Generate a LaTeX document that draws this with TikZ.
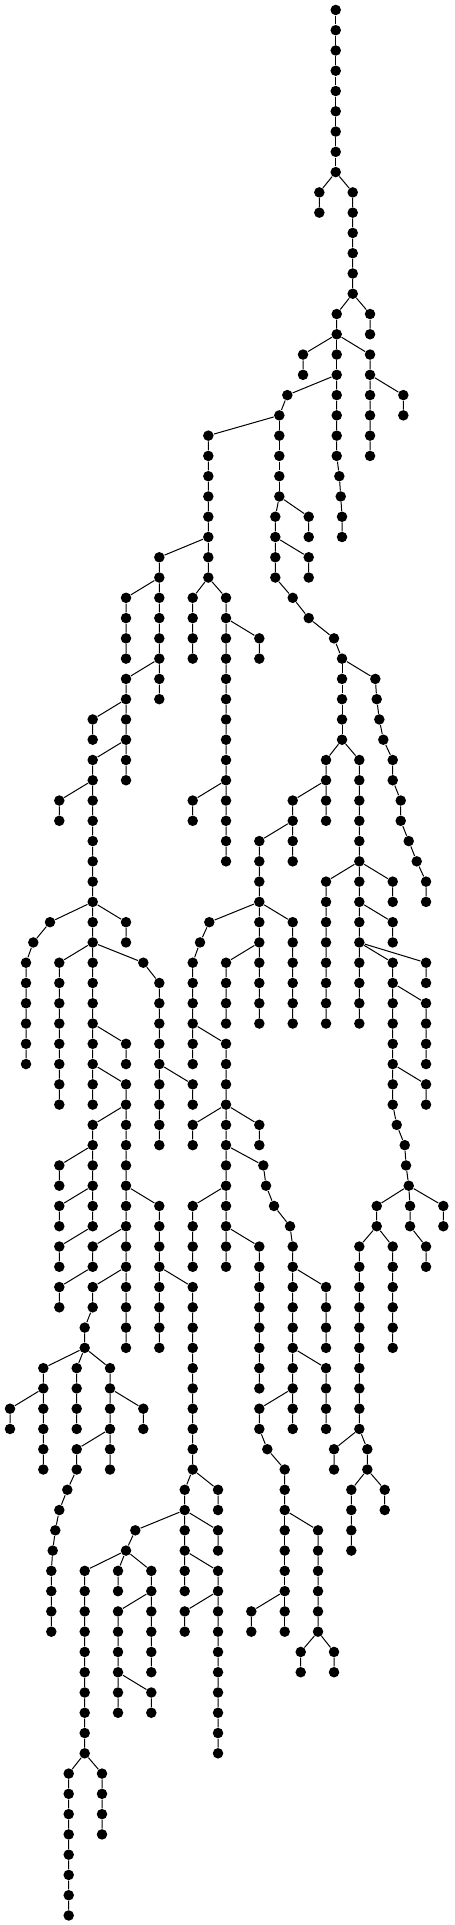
\documentclass[tikz,border=0pt]{standalone}
\usepackage{tikz}
\tikzset{dot/.style={circle,fill=black,inner sep=0pt,minimum size=10.5pt}}

\begin{document}
\begin{tikzpicture}[x=1pt,y=-20.27pt,line width=1pt]
\useasboundingbox (0,-0.49) rectangle (454,94.47);
\node[dot] (a0) at (335.7,0) {};
\node[dot] (a1) at (335.7,1) {};
\node[dot] (a2) at (335.7,2) {};
\node[dot] (a3) at (335.7,3) {};
\node[dot] (a4) at (335.7,4) {};
\node[dot] (a5) at (335.7,5) {};
\node[dot] (a6) at (335.7,6) {};
\node[dot] (a7) at (335.7,7) {};
\node[dot] (a8) at (335.7,8) {};
\node[dot] (b9) at (319.3,9) {};
\node[dot] (b10) at (319.3,10) {};
\node[dot] (c9) at (352.7,9) {};
\node[dot] (c10) at (352.7,10) {};
\node[dot] (c11) at (352.7,11) {};
\node[dot] (c12) at (352.7,12) {};
\node[dot] (c13) at (352.7,13) {};
\node[dot] (c14) at (352.7,14) {};
\node[dot] (d15) at (336.7,15) {};
\node[dot] (d16) at (336.7,16) {};
\node[dot] (e15) at (370,15) {};
\node[dot] (e16) at (370,16) {};
\node[dot] (f17) at (303,17) {};
\node[dot] (f18) at (303,18) {};
\node[dot] (g17) at (336.7,17) {};
\node[dot] (g18) at (336.7,18) {};
\node[dot] (h17) at (370,17) {};
\node[dot] (h18) at (370,18) {};
\node[dot] (h19) at (370,19) {};
\node[dot] (h20) at (370,20) {};
\node[dot] (h21) at (370,21) {};
\node[dot] (h22) at (370,22) {};
\node[dot] (i19) at (403.3,19) {};
\node[dot] (i20) at (403.3,20) {};
\node[dot] (j19) at (287.3,19) {};
\node[dot] (j20) at (279.3,20) {};
\node[dot] (k19) at (336.7,19) {};
\node[dot] (k20) at (336.7,20) {};
\node[dot] (k21) at (336.7,21) {};
\node[dot] (k22) at (336.7,22) {};
\node[dot] (k23) at (339.3,23) {};
\node[dot] (k24) at (340.7,24) {};
\node[dot] (k25) at (342,25) {};
\node[dot] (k26) at (342,26) {};
\node[dot] (m21) at (208.3,21) {};
\node[dot] (m22) at (208.3,22) {};
\node[dot] (m23) at (208.3,23) {};
\node[dot] (m24) at (208.3,24) {};
\node[dot] (m25) at (208.3,25) {};
\node[dot] (m26) at (208.3,26) {};
\node[dot] (m27) at (208.3,27) {};
\node[dot] (m28) at (208.3,28) {};
\node[dot] (n21) at (279.3,21) {};
\node[dot] (n22) at (279.3,22) {};
\node[dot] (n23) at (279.3,23) {};
\node[dot] (n24) at (279.3,24) {};
\node[dot] (o25) at (275.3,25) {};
\node[dot] (o26) at (275.3,26) {};
\node[dot] (o27) at (275.3,27) {};
\node[dot] (o28) at (275.3,28) {};
\node[dot] (o29) at (292.7,29) {};
\node[dot] (o30) at (308.7,30) {};
\node[dot] (o31) at (334,31) {};
\node[dot] (o32) at (342,32) {};
\node[dot] (p25) at (308.7,25) {};
\node[dot] (p26) at (308.7,26) {};
\node[dot] (q27) at (308.7,27) {};
\node[dot] (q28) at (308.7,28) {};
\node[dot] (r33) at (342,33) {};
\node[dot] (r34) at (342,34) {};
\node[dot] (r35) at (342,35) {};
\node[dot] (r36) at (342,36) {};
\node[dot] (s33) at (375.3,33) {};
\node[dot] (s34) at (376.7,34) {};
\node[dot] (s35) at (379.3,35) {};
\node[dot] (s36) at (383.3,36) {};
\node[dot] (s37) at (392.7,37) {};
\node[dot] (s38) at (392.7,38) {};
\node[dot] (s39) at (400.7,39) {};
\node[dot] (s40) at (400.7,40) {};
\node[dot] (s41) at (408.7,41) {};
\node[dot] (s42) at (416.7,42) {};
\node[dot] (s43) at (426,43) {};
\node[dot] (s44) at (426,44) {};
\node[dot] (t37) at (326,37) {};
\node[dot] (t38) at (326,38) {};
\node[dot] (t39) at (326,39) {};
\node[dot] (t40) at (326,40) {};
\node[dot] (u37) at (359.3,37) {};
\node[dot] (u38) at (359.3,38) {};
\node[dot] (u39) at (359.3,39) {};
\node[dot] (u40) at (359.3,40) {};
\node[dot] (u41) at (359.3,41) {};
\node[dot] (u42) at (359.3,42) {};
\node[dot] (u43) at (359.3,43) {};
\node[dot] (u44) at (359.3,44) {};
\node[dot] (u45) at (359.3,45) {};
\node[dot] (u46) at (359.3,46) {};
\node[dot] (u47) at (359.3,47) {};
\node[dot] (u48) at (359.3,48) {};
\node[dot] (u49) at (359.3,49) {};
\node[dot] (u50) at (359.3,50) {};
\node[dot] (v39) at (292.7,39) {};
\node[dot] (v40) at (292.7,40) {};
\node[dot] (v41) at (292.7,41) {};
\node[dot] (v42) at (292.7,42) {};
\node[dot] (w41) at (259.3,41) {};
\node[dot] (w42) at (259.3,42) {};
\node[dot] (w43) at (259.3,43) {};
\node[dot] (w44) at (259.3,44) {};
\node[dot] (w45) at (259.3,45) {};
\node[dot] (w46) at (259.3,46) {};
\node[dot] (w47) at (259.3,47) {};
\node[dot] (w48) at (259.3,48) {};
\node[dot] (w49) at (259.3,49) {};
\node[dot] (w50) at (259.3,50) {};
\node[dot] (x45) at (209.3,45) {};
\node[dot] (x46) at (200,46) {};
\node[dot] (x47) at (192.7,47) {};
\node[dot] (x48) at (192.7,48) {};
\node[dot] (x49) at (192.7,49) {};
\node[dot] (x50) at (192.7,50) {};
\node[dot] (x51) at (192.7,51) {};
\node[dot] (x52) at (192.7,52) {};
\node[dot] (y45) at (292.7,45) {};
\node[dot] (y46) at (292.7,46) {};
\node[dot] (y47) at (292.7,47) {};
\node[dot] (y48) at (292.7,48) {};
\node[dot] (y49) at (292.7,49) {};
\node[dot] (y50) at (292.7,50) {};
\node[dot] (z47) at (226,47) {};
\node[dot] (z48) at (226,48) {};
\node[dot] (z49) at (226,49) {};
\node[dot] (z50) at (226,50) {};
\node[dot] (aa51) at (226,51) {};
\node[dot] (aa52) at (226,52) {};
\node[dot] (aa53) at (226,53) {};
\node[dot] (aa54) at (226,54) {};
\node[dot] (aa55) at (226,55) {};
\node[dot] (aa56) at (226,56) {};
\node[dot] (aa57) at (226,57) {};
\node[dot] (aa58) at (226,58) {};
\node[dot] (aa59) at (226,59) {};
\node[dot] (aa60) at (226,60) {};
\node[dot] (aa61) at (226,61) {};
\node[dot] (aa62) at (226,62) {};
\node[dot] (ab55) at (192.7,55) {};
\node[dot] (ab56) at (192.7,56) {};
\node[dot] (ac55) at (259.3,55) {};
\node[dot] (ac56) at (259.3,56) {};
\node[dot] (ad57) at (263.3,57) {};
\node[dot] (ad58) at (266,58) {};
\node[dot] (ad59) at (274,59) {};
\node[dot] (ad60) at (290,60) {};
\node[dot] (ad61) at (292.7,61) {};
\node[dot] (ad62) at (292.7,62) {};
\node[dot] (ad63) at (292.7,63) {};
\node[dot] (ad64) at (292.7,64) {};
\node[dot] (ad65) at (292.7,65) {};
\node[dot] (ad66) at (292.7,66) {};
\node[dot] (ad67) at (292.7,67) {};
\node[dot] (ad68) at (292.7,68) {};
\node[dot] (ad69) at (292.7,69) {};
\node[dot] (ad70) at (292.7,70) {};
\node[dot] (ae63) at (326,63) {};
\node[dot] (ae64) at (326,64) {};
\node[dot] (ae65) at (326,65) {};
\node[dot] (ae66) at (326,66) {};
\node[dot] (af67) at (326,67) {};
\node[dot] (af68) at (326,68) {};
\node[dot] (af69) at (326,69) {};
\node[dot] (af70) at (326,70) {};
\node[dot] (ag69) at (259.3,69) {};
\node[dot] (ag70) at (259.3,70) {};
\node[dot] (ag71) at (267.3,71) {};
\node[dot] (ag72) at (284.7,72) {};
\node[dot] (ag73) at (284.7,73) {};
\node[dot] (ag74) at (284.7,74) {};
\node[dot] (ah75) at (284.7,75) {};
\node[dot] (ah76) at (284.7,76) {};
\node[dot] (ah77) at (284.7,77) {};
\node[dot] (ah78) at (284.7,78) {};
\node[dot] (ah79) at (284.7,79) {};
\node[dot] (ah80) at (284.7,80) {};
\node[dot] (aj79) at (251.3,79) {};
\node[dot] (aj80) at (251.3,80) {};
\node[dot] (ai75) at (318,75) {};
\node[dot] (ai76) at (318,76) {};
\node[dot] (ai77) at (318,77) {};
\node[dot] (ai78) at (318,78) {};
\node[dot] (ai79) at (318,79) {};
\node[dot] (ai80) at (318,80) {};
\node[dot] (ak81) at (300.7,81) {};
\node[dot] (ak82) at (300.7,82) {};
\node[dot] (al81) at (334,81) {};
\node[dot] (al82) at (334,82) {};
\node[dot] (am59) at (192.7,59) {};
\node[dot] (am60) at (192.7,60) {};
\node[dot] (am61) at (192.7,61) {};
\node[dot] (am62) at (192.7,62) {};
\node[dot] (an61) at (259.3,61) {};
\node[dot] (an62) at (259.3,62) {};
\node[dot] (an63) at (259.3,63) {};
\node[dot] (an64) at (259.3,64) {};
\node[dot] (an65) at (259.3,65) {};
\node[dot] (an66) at (259.3,66) {};
\node[dot] (an67) at (259.3,67) {};
\node[dot] (an68) at (259.3,68) {};
\node[dot] (ba43) at (326,43) {};
\node[dot] (ba44) at (326,44) {};
\node[dot] (ba45) at (326,45) {};
\node[dot] (ba46) at (326,46) {};
\node[dot] (ba47) at (326,47) {};
\node[dot] (ba48) at (326,48) {};
\node[dot] (ba49) at (326,49) {};
\node[dot] (ba50) at (326,50) {};
\node[dot] (bb43) at (392.7,43) {};
\node[dot] (bb44) at (392.7,44) {};
\node[dot] (bc45) at (392.7,45) {};
\node[dot] (bc46) at (392.7,46) {};
\node[dot] (bd47) at (392.7,47) {};
\node[dot] (bd48) at (392.7,48) {};
\node[dot] (bd49) at (392.7,49) {};
\node[dot] (bd50) at (392.7,50) {};
\node[dot] (bd51) at (392.7,51) {};
\node[dot] (bd52) at (392.7,52) {};
\node[dot] (bd53) at (392.7,53) {};
\node[dot] (bd54) at (392.7,54) {};
\node[dot] (bd55) at (396.7,55) {};
\node[dot] (bd56) at (404.7,56) {};
\node[dot] (bd57) at (406,57) {};
\node[dot] (bd58) at (408.7,58) {};
\node[dot] (be47) at (426,47) {};
\node[dot] (be48) at (426,48) {};
\node[dot] (bf49) at (426,49) {};
\node[dot] (bf50) at (426,50) {};
\node[dot] (bf51) at (426,51) {};
\node[dot] (bf52) at (426,52) {};
\node[dot] (bg53) at (426,53) {};
\node[dot] (bg54) at (426,54) {};
\node[dot] (bh59) at (376.7,59) {};
\node[dot] (bh60) at (376.7,60) {};
\node[dot] (bi59) at (410,59) {};
\node[dot] (bi60) at (410,60) {};
\node[dot] (bi61) at (426,61) {};
\node[dot] (bi62) at (426,62) {};
\node[dot] (bj59) at (443.3,59) {};
\node[dot] (bj60) at (443.3,60) {};
\node[dot] (bk61) at (359.3,61) {};
\node[dot] (bk62) at (359.3,62) {};
\node[dot] (bk63) at (359.3,63) {};
\node[dot] (bk64) at (359.3,64) {};
\node[dot] (bk65) at (359.3,65) {};
\node[dot] (bk66) at (359.3,66) {};
\node[dot] (bk67) at (359.3,67) {};
\node[dot] (bk68) at (359.3,68) {};
\node[dot] (bk69) at (359.3,69) {};
\node[dot] (bk70) at (359.3,70) {};
\node[dot] (bl61) at (392.7,61) {};
\node[dot] (bl62) at (392.7,62) {};
\node[dot] (bl63) at (392.7,63) {};
\node[dot] (bl64) at (392.7,64) {};
\node[dot] (bl65) at (392.7,65) {};
\node[dot] (bl66) at (392.7,66) {};
\node[dot] (bm71) at (334,71) {};
\node[dot] (bm72) at (334,72) {};
\node[dot] (bn71) at (367.3,71) {};
\node[dot] (bn72) at (367.3,72) {};
\node[dot] (bo73) at (351.3,73) {};
\node[dot] (bo74) at (351.3,74) {};
\node[dot] (bo75) at (351.3,75) {};
\node[dot] (bo76) at (351.3,76) {};
\node[dot] (bp73) at (384.7,73) {};
\node[dot] (bp74) at (384.7,74) {};
\node[dot] (ca27) at (159.3,27) {};
\node[dot] (ca28) at (159.3,28) {};
\node[dot] (ca29) at (159.3,29) {};
\node[dot] (ca30) at (159.3,30) {};
\node[dot] (ca31) at (159.3,31) {};
\node[dot] (ca32) at (159.3,32) {};
\node[dot] (ca33) at (159.3,33) {};
\node[dot] (ca34) at (159.3,34) {};
\node[dot] (cb29) at (192.7,29) {};
\node[dot] (cb30) at (192.7,30) {};
\node[dot] (cb31) at (192.7,31) {};
\node[dot] (cb32) at (192.7,32) {};
\node[dot] (cc29) at (226,29) {};
\node[dot] (cc30) at (226,30) {};
\node[dot] (cc31) at (226,31) {};
\node[dot] (cc32) at (226,32) {};
\node[dot] (cc33) at (226,33) {};
\node[dot] (cc34) at (226,34) {};
\node[dot] (cc35) at (226,35) {};
\node[dot] (cc36) at (226,36) {};
\node[dot] (cc37) at (226,37) {};
\node[dot] (cc38) at (226,38) {};
\node[dot] (cc39) at (226,39) {};
\node[dot] (cc40) at (226,40) {};
\node[dot] (cc41) at (226,41) {};
\node[dot] (cc42) at (226,42) {};
\node[dot] (cd31) at (259.3,31) {};
\node[dot] (cd32) at (259.3,32) {};
\node[dot] (ce39) at (192.7,39) {};
\node[dot] (ce40) at (192.7,40) {};
\node[dot] (da29) at (126,29) {};
\node[dot] (da30) at (126,30) {};
\node[dot] (da31) at (126,31) {};
\node[dot] (da32) at (126,32) {};
\node[dot] (db33) at (126,33) {};
\node[dot] (db34) at (126,34) {};
\node[dot] (db35) at (126,35) {};
\node[dot] (db36) at (126,36) {};
\node[dot] (db37) at (126,37) {};
\node[dot] (db38) at (126,38) {};
\node[dot] (dc35) at (92.7,35) {};
\node[dot] (dc36) at (92.7,36) {};
\node[dot] (dd37) at (92.7,37) {};
\node[dot] (dd38) at (92.7,38) {};
\node[dot] (dd39) at (92.7,39) {};
\node[dot] (dd40) at (92.7,40) {};
\node[dot] (dd41) at (92.7,41) {};
\node[dot] (dd42) at (92.7,42) {};
\node[dot] (dd43) at (92.7,43) {};
\node[dot] (dd44) at (92.7,44) {};
\node[dot] (dd45) at (92.7,45) {};
\node[dot] (dd46) at (92.7,46) {};
\node[dot] (dd47) at (92.7,47) {};
\node[dot] (dd48) at (92.7,48) {};
\node[dot] (dd49) at (92.7,49) {};
\node[dot] (dd50) at (92.7,50) {};
\node[dot] (dd51) at (92.7,51) {};
\node[dot] (dd52) at (92.7,52) {};
\node[dot] (dd53) at (92.7,53) {};
\node[dot] (dd54) at (92.7,54) {};
\node[dot] (de39) at (59.3,39) {};
\node[dot] (de40) at (59.3,40) {};
\node[dot] (df45) at (50,45) {};
\node[dot] (df46) at (33.3,46) {};
\node[dot] (df47) at (26,47) {};
\node[dot] (df48) at (26,48) {};
\node[dot] (df49) at (26,49) {};
\node[dot] (df50) at (26,50) {};
\node[dot] (df51) at (26,51) {};
\node[dot] (df52) at (26,52) {};
\node[dot] (dg45) at (126,45) {};
\node[dot] (dg46) at (126,46) {};
\node[dot] (dh47) at (59.3,47) {};
\node[dot] (dh48) at (59.3,48) {};
\node[dot] (dh49) at (59.3,49) {};
\node[dot] (dh50) at (59.3,50) {};
\node[dot] (dh51) at (59.3,51) {};
\node[dot] (dh52) at (59.3,52) {};
\node[dot] (dh53) at (59.3,53) {};
\node[dot] (dh54) at (59.3,54) {};
\node[dot] (di47) at (143.3,47) {};
\node[dot] (di48) at (159.3,48) {};
\node[dot] (di49) at (159.3,49) {};
\node[dot] (di50) at (159.3,50) {};
\node[dot] (di51) at (159.3,51) {};
\node[dot] (di52) at (159.3,52) {};
\node[dot] (di53) at (159.3,53) {};
\node[dot] (di54) at (159.3,54) {};
\node[dot] (di55) at (159.3,55) {};
\node[dot] (di56) at (159.3,56) {};
\node[dot] (dj53) at (192.7,53) {};
\node[dot] (dj54) at (192.7,54) {};
\node[dot] (dk51) at (126,51) {};
\node[dot] (dk52) at (126,52) {};
\node[dot] (dl53) at (126,53) {};
\node[dot] (dl54) at (126,54) {};
\node[dot] (dl55) at (126,55) {};
\node[dot] (dl56) at (126,56) {};
\node[dot] (dl57) at (126,57) {};
\node[dot] (dl58) at (126,58) {};
\node[dot] (dl59) at (126,59) {};
\node[dot] (dl60) at (126,60) {};
\node[dot] (dl61) at (126,61) {};
\node[dot] (dl62) at (126,62) {};
\node[dot] (dl63) at (126,63) {};
\node[dot] (dl64) at (126,64) {};
\node[dot] (dl65) at (126,65) {};
\node[dot] (dl66) at (126,66) {};
\node[dot] (dm55) at (92.7,55) {};
\node[dot] (dm56) at (92.7,56) {};
\node[dot] (dm57) at (92.7,57) {};
\node[dot] (dm58) at (92.7,58) {};
\node[dot] (dm59) at (92.7,59) {};
\node[dot] (dm60) at (92.7,60) {};
\node[dot] (dn57) at (59.3,57) {};
\node[dot] (dn58) at (59.3,58) {};
\node[dot] (do59) at (59.3,59) {};
\node[dot] (do60) at (59.3,60) {};
\node[dot] (dp61) at (59.3,61) {};
\node[dot] (dp62) at (59.3,62) {};
\node[dot] (dq59) at (159.3,59) {};
\node[dot] (dq60) at (159.3,60) {};
\node[dot] (dq61) at (159.3,61) {};
\node[dot] (dq62) at (159.3,62) {};
\node[dot] (dq63) at (159.3,63) {};
\node[dot] (dq64) at (159.3,64) {};
\node[dot] (dq65) at (159.3,65) {};
\node[dot] (dq66) at (159.3,66) {};
\node[dot] (dr61) at (92.7,61) {};
\node[dot] (dr62) at (92.7,62) {};
\node[dot] (ds63) at (59.3,63) {};
\node[dot] (ds64) at (59.3,64) {};
\node[dot] (dt63) at (92.7,63) {};
\node[dot] (dt64) at (92.7,64) {};
\node[dot] (dt65) at (84.7,65) {};
\node[dot] (dt66) at (84.7,66) {};
\node[dot] (du67) at (43.3,67) {};
\node[dot] (du68) at (43.3,68) {};
\node[dot] (du69) at (43.3,69) {};
\node[dot] (du70) at (43.3,70) {};
\node[dot] (du71) at (43.3,71) {};
\node[dot] (du72) at (43.3,72) {};
\node[dot] (dv67) at (76.7,67) {};
\node[dot] (dv68) at (76.7,68) {};
\node[dot] (dv69) at (76.7,69) {};
\node[dot] (dv70) at (76.7,70) {};
\node[dot] (dw67) at (110,67) {};
\node[dot] (dw68) at (110,68) {};
\node[dot] (dw69) at (110,69) {};
\node[dot] (dw70) at (110,70) {};
\node[dot] (dw71) at (110,71) {};
\node[dot] (dw72) at (110,72) {};
\node[dot] (dx69) at (10,69) {};
\node[dot] (dx70) at (10,70) {};
\node[dot] (dy69) at (143.3,69) {};
\node[dot] (dy70) at (143.3,70) {};
\node[dot] (dz71) at (76.7,71) {};
\node[dot] (dz72) at (76.7,72) {};
\node[dot] (dz73) at (67.3,73) {};
\node[dot] (dz74) at (59.3,74) {};
\node[dot] (dz75) at (55.3,75) {};
\node[dot] (dz76) at (52.7,76) {};
\node[dot] (dz77) at (51.3,77) {};
\node[dot] (dz78) at (51.3,78) {};
\node[dot] (dz79) at (51.3,79) {};
\node[dot] (dz80) at (51.3,80) {};
\node[dot] (ea63) at (192.7,63) {};
\node[dot] (ea64) at (192.7,64) {};
\node[dot] (ea65) at (192.7,65) {};
\node[dot] (ea66) at (192.7,66) {};
\node[dot] (ea67) at (192.7,67) {};
\node[dot] (ea68) at (192.7,68) {};
\node[dot] (ea69) at (192.7,69) {};
\node[dot] (ea70) at (192.7,70) {};
\node[dot] (ea71) at (192.7,71) {};
\node[dot] (ea72) at (192.7,72) {};
\node[dot] (eb73) at (184.7,73) {};
\node[dot] (eb74) at (184.7,74) {};
\node[dot] (eb75) at (184.7,75) {};
\node[dot] (eb76) at (184.7,76) {};
\node[dot] (eb77) at (184.7,77) {};
\node[dot] (eb78) at (184.7,78) {};
\node[dot] (ec73) at (218,73) {};
\node[dot] (ec74) at (218,74) {};
\node[dot] (ed75) at (135.3,75) {};
\node[dot] (ed76) at (126,76) {};
\node[dot] (ee75) at (218,75) {};
\node[dot] (ee76) at (218,76) {};
\node[dot] (ef77) at (218,77) {};
\node[dot] (ef78) at (218,78) {};
\node[dot] (ef79) at (218,79) {};
\node[dot] (ef80) at (218,80) {};
\node[dot] (ef81) at (218,81) {};
\node[dot] (ef82) at (218,82) {};
\node[dot] (ef83) at (218,83) {};
\node[dot] (ef84) at (218,84) {};
\node[dot] (ef85) at (218,85) {};
\node[dot] (ef86) at (218,86) {};
\node[dot] (eg79) at (184.7,79) {};
\node[dot] (eg80) at (184.7,80) {};
\node[dot] (eh77) at (84.7,77) {};
\node[dot] (eh78) at (84.7,78) {};
\node[dot] (eh79) at (84.7,79) {};
\node[dot] (eh80) at (84.7,80) {};
\node[dot] (eh81) at (84.7,81) {};
\node[dot] (eh82) at (84.7,82) {};
\node[dot] (eh83) at (84.7,83) {};
\node[dot] (eh84) at (84.7,84) {};
\node[dot] (eh85) at (84.7,85) {};
\node[dot] (eh86) at (84.7,86) {};
\node[dot] (ei77) at (118,77) {};
\node[dot] (ei78) at (118,78) {};
\node[dot] (ej77) at (151.3,77) {};
\node[dot] (ej78) at (151.3,78) {};
\node[dot] (ej79) at (151.3,79) {};
\node[dot] (ej80) at (151.3,80) {};
\node[dot] (ej81) at (151.3,81) {};
\node[dot] (ej82) at (151.3,82) {};
\node[dot] (ek79) at (118,79) {};
\node[dot] (ek80) at (118,80) {};
\node[dot] (ek81) at (118,81) {};
\node[dot] (ek82) at (118,82) {};
\node[dot] (ek83) at (118,83) {};
\node[dot] (ek84) at (118,84) {};
\node[dot] (el83) at (151.3,83) {};
\node[dot] (el84) at (151.3,84) {};
\node[dot] (em87) at (68.7,87) {};
\node[dot] (em88) at (68.7,88) {};
\node[dot] (em89) at (68.7,89) {};
\node[dot] (em90) at (68.7,90) {};
\node[dot] (em91) at (68.7,91) {};
\node[dot] (em92) at (68.7,92) {};
\node[dot] (em93) at (68.7,93) {};
\node[dot] (em94) at (68.7,94) {};
\node[dot] (en87) at (102,87) {};
\node[dot] (en88) at (102,88) {};
\node[dot] (en89) at (102,89) {};
\node[dot] (en90) at (102,90) {};

\draw (a0) to (a1) to (a2) to (a3) to (a4) to (a5) to (a6) to (a7) to (a8);
\draw (a8) to (b9) to (b10);
\draw (a8) to (c9) to (c10) to (c11) to (c12) to (c13) to (c14);
\draw (c14) to (d15) to (d16);
\draw (c14) to (e15) to (e16);
\draw (d16) to (f17) to (f18);
\draw (d16) to (g17) to (g18);
\draw (d16) to (h17) to (h18) to (h19) to (h20) to (h21) to (h22);
\draw (h18) to (i19) to (i20);
\draw (g18) to (j19) to (j20);
\draw (g18) to (k19) to (k20) to (k21) to (k22) to (k23) to (k24) to (k25) to (k26);
\draw (j20) to (m21) to (m22) to (m23) to (m24) to (m25) to (m26) to (m27) to (m28);
\draw (j20) to (n21) to (n22) to (n23) to (n24);
\draw (n24) to (o25) to (o26) to (o27) to (o28) to (o29) to (o30) to (o31) to (o32);
\draw (n24) to (p25) to (p26);
\draw (o26) to (q27) to (q28);
\draw (o32) to (r33) to (r34) to (r35) to (r36);
\draw (o32) to (s33) to (s34) to (s35) to (s36) to (s37) to (s38) to (s39) to (s40) to (s41) to (s42) to (s43) to (s44);
\draw (r36) to (t37) to (t38) to (t39) to (t40);
\draw (r36) to (u37) to (u38) to (u39) to (u40) to (u41) to (u42) to (u43) to (u44) to (u45) to (u46) to (u47) to (u48) to (u49) to (u50);
\draw (t38) to (v39) to (v40) to (v41) to (v42);
\draw (v40) to (w41) to (w42) to (w43) to (w44) to (w45) to (w46) to (w47) to (w48) to (w49) to (w50);
\draw (w44) to (x45) to (x46) to (x47) to (x48) to (x49) to (x50) to (x51) to (x52);
\draw (w44) to (y45) to (y46) to (y47) to (y48) to (y49) to (y50);
\draw (w46) to (z47) to (z48) to (z49) to (z50);
\draw (x50) to (aa51) to (aa52) to (aa53) to (aa54) to (aa55) to (aa56) to (aa57) to (aa58) to (aa59) to (aa60) to (aa61) to (aa62);
\draw (aa54) to (ab55) to (ab56);
\draw (aa54) to (ac55) to (ac56);
\draw (aa56) to (ad57) to (ad58) to (ad59) to (ad60) to (ad61) to (ad62) to (ad63) to (ad64) to (ad65) to (ad66) to (ad67) to (ad68) to (ad69) to (ad70);
\draw (ad62) to (ae63) to (ae64) to (ae65) to (ae66);
\draw (ad66) to (af67) to (af68) to (af69) to (af70);
\draw (ad68) to (ag69) to (ag70) to (ag71) to (ag72) to (ag73) to (ag74);
\draw (ag74) to (ah75) to (ah76) to (ah77) to (ah78) to (ah79) to (ah80);
\draw (ah78) to (aj79) to (aj80);
\draw (ag74) to (ai75) to (ai76) to (ai77) to (ai78) to (ai79) to (ai80);
\draw (ai80) to (ak81) to (ak82);
\draw (ai80) to (al81) to (al82);
\draw (aa58) to (am59) to (am60) to (am61) to (am62);
\draw (aa60) to (an61) to (an62) to (an63) to (an64) to (an65) to (an66) to (an67) to (an68);
\draw (u42) to (ba43) to (ba44) to (ba45) to (ba46) to (ba47) to (ba48) to (ba49) to (ba50);
\draw (u42) to (bb43) to (bb44);
\draw (u44) to (bc45) to (bc46);
\draw (u46) to (bd47) to (bd48) to (bd49) to (bd50) to (bd51) to (bd52) to (bd53) to (bd54) to (bd55) to (bd56) to (bd57) to (bd58);
\draw (u46) to (be47) to (be48);
\draw (bd48) to (bf49) to (bf50) to (bf51) to (bf52);
\draw (bd52) to (bg53) to (bg54);
\draw (bd58) to (bh59) to (bh60);
\draw (bd58) to (bi59) to (bi60) to (bi61) to (bi62);
\draw (bd58) to (bj59) to (bj60);
\draw (bh60) to (bk61) to (bk62) to (bk63) to (bk64) to (bk65) to (bk66) to (bk67) to (bk68) to (bk69) to (bk70);
\draw (bh60) to (bl61) to (bl62) to (bl63) to (bl64) to (bl65) to (bl66);
\draw (bk70) to (bm71) to (bm72);
\draw (bk70) to (bn71) to (bn72);
\draw (bn72) to (bo73) to (bo74) to (bo75) to (bo76);
\draw (bn72) to (bp73) to (bp74);
\draw (m26) to (ca27) to (ca28) to (ca29) to (ca30) to (ca31) to (ca32) to (ca33) to (ca34);
\draw (m28) to (cb29) to (cb30) to (cb31) to (cb32);
\draw (m28) to (cc29) to (cc30) to (cc31) to (cc32) to (cc33) to (cc34) to (cc35) to (cc36) to (cc37) to (cc38) to (cc39) to (cc40) to (cc41) to (cc42);
\draw (cc30) to (cd31) to (cd32);
\draw (cc38) to (ce39) to (ce40);
\draw (ca28) to (da29) to (da30) to (da31) to (da32);
\draw (ca32) to (db33) to (db34) to (db35) to (db36) to (db37) to (db38);
\draw (db34) to (dc35) to (dc36);
\draw (db36) to (dd37) to (dd38) to (dd39) to (dd40) to (dd41) to (dd42) to (dd43) to (dd44) to (dd45) to (dd46) to (dd47) to (dd48) to (dd49) to (dd50) to (dd51) to (dd52) to (dd53) to (dd54);
\draw (dd38) to (de39) to (de40);
\draw (dd44) to (df45) to (df46) to (df47) to (df48) to (df49) to (df50) to (df51) to (df52);
\draw (dd44) to (dg45) to (dg46);
\draw (dd46) to (dh47) to (dh48) to (dh49) to (dh50) to (dh51) to (dh52) to (dh53) to (dh54);
\draw (dd46) to (di47) to (di48) to (di49) to (di50) to (di51) to (di52) to (di53) to (di54) to (di55) to (di56);
\draw (di52) to (dj53) to (dj54);
\draw (dd50) to (dk51) to (dk52);
\draw (dd52) to (dl53) to (dl54) to (dl55) to (dl56) to (dl57) to (dl58) to (dl59) to (dl60) to (dl61) to (dl62) to (dl63) to (dl64) to (dl65) to (dl66);
\draw (dl54) to (dm55) to (dm56) to (dm57) to (dm58) to (dm59) to (dm60);
\draw (dm56) to (dn57) to (dn58);
\draw (dm58) to (do59) to (do60);
\draw (dm60) to (dp61) to (dp62);
\draw (dl58) to (dq59) to (dq60) to (dq61) to (dq62) to (dq63) to (dq64) to (dq65) to (dq66);
\draw (dl60) to (dr61) to (dr62);
\draw (dr62) to (ds63) to (ds64);
\draw (dl62) to (dt63) to (dt64) to (dt65) to (dt66);
\draw (dt66) to (du67) to (du68) to (du69) to (du70) to (du71) to (du72);
\draw (dt66) to (dv67) to (dv68) to (dv69) to (dv70);
\draw (dt66) to (dw67) to (dw68) to (dw69) to (dw70) to (dw71) to (dw72);
\draw (du68) to (dx69) to (dx70);
\draw (dw68) to (dy69) to (dy70);
\draw (dw70) to (dz71) to (dz72) to (dz73) to (dz74) to (dz75) to (dz76) to (dz77) to (dz78) to (dz79) to (dz80);
\draw (dq62) to (ea63) to (ea64) to (ea65) to (ea66) to (ea67) to (ea68) to (ea69) to (ea70) to (ea71) to (ea72);
\draw (ea72) to (eb73) to (eb74) to (eb75) to (eb76) to (eb77) to (eb78);
\draw (ea72) to (ec73) to (ec74);
\draw (eb74) to (ed75) to (ed76);
\draw (eb74) to (ee75) to (ee76);
\draw (eb76) to (ef77) to (ef78) to (ef79) to (ef80) to (ef81) to (ef82) to (ef83) to (ef84) to (ef85) to (ef86);
\draw (ef78) to (eg79) to (eg80);
\draw (ed76) to (eh77) to (eh78) to (eh79) to (eh80) to (eh81) to (eh82) to (eh83) to (eh84) to (eh85) to (eh86);
\draw (ed76) to (ei77) to (ei78);
\draw (ed76) to (ej77) to (ej78) to (ej79) to (ej80) to (ej81) to (ej82);
\draw (ej78) to (ek79) to (ek80) to (ek81) to (ek82) to (ek83) to (ek84);
\draw (ek82) to (el83) to (el84);
\draw (eh86) to (em87) to (em88) to (em89) to (em90) to (em91) to (em92) to (em93) to (em94);
\draw (eh86) to (en87) to (en88) to (en89) to (en90);
\end{tikzpicture}
\end{document}
